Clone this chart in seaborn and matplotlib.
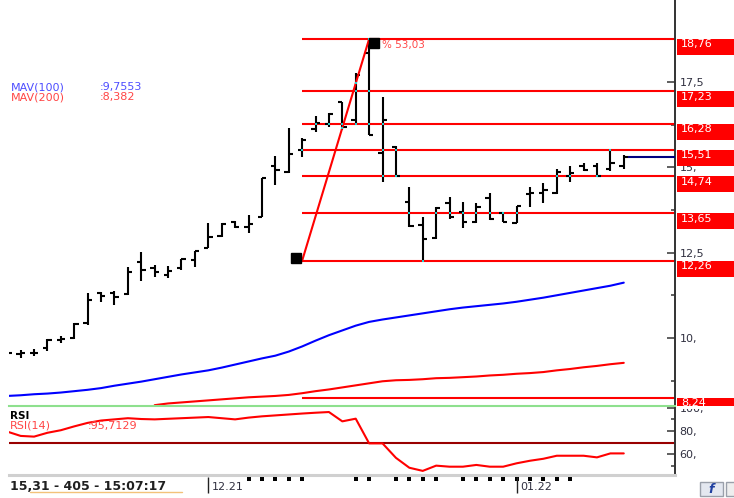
import numpy as np
import pandas as pd
import matplotlib
matplotlib.use("Agg")
import matplotlib.pyplot as plt
import matplotlib.transforms as mtransforms
from matplotlib.patches import Rectangle
from matplotlib.lines import Line2D
import seaborn as sns

# ---- values (daily bars, Dec 2021 - Jan 2022) ----
bars = list(range(-1, 46))
opens = [9.57, 9.53, 9.56, 9.70, 9.95, 10.00, 10.43, 11.32, 11.32, 11.29,
         12.23, 12.04, 11.85, 12.06, 12.28, 12.65, 12.99, 13.41, 13.25, 13.54,
         15.04, 14.87, 15.51, 16.11, 16.27, 16.90, 16.39, 18.34, 15.41, 15.60,
         13.99, 13.31, 12.93, 13.95, 13.70, 13.41, 14.09, 13.65, 13.37, 14.23,
         14.26, 14.25, 14.75, 15.04, 15.04, 14.94, 15.04]
highs = [9.57, 9.65, 9.67, 9.97, 10.06, 10.44, 11.33, 11.35, 11.38, 12.07,
         12.52, 12.14, 12.11, 12.30, 12.56, 13.38, 13.37, 13.44, 13.60, 14.70,
         15.33, 16.14, 15.85, 16.50, 16.60, 16.92, 17.75, 18.76, 17.07, 15.61,
         14.41, 13.54, 13.85, 14.12, 13.99, 13.96, 14.26, 13.67, 13.88, 14.43,
         14.55, 14.94, 15.04, 15.12, 15.14, 15.53, 15.36]
lows = [9.57, 9.41, 9.47, 9.63, 9.86, 9.98, 10.38, 11.05, 10.97, 11.26,
        11.68, 11.79, 11.76, 11.99, 12.09, 12.63, 12.97, 13.21, 13.07, 13.53,
        14.47, 14.82, 15.31, 16.04, 16.19, 16.09, 16.24, 15.94, 14.58, 14.73,
        13.26, 12.26, 12.89, 13.48, 13.21, 13.36, 13.46, 13.40, 13.36, 13.85,
        13.96, 14.22, 14.58, 14.90, 14.73, 14.90, 14.94]
closes = [9.57, 9.56, 9.57, 9.94, 9.98, 10.41, 11.11, 11.23, 11.20, 11.94,
          11.99, 11.94, 11.95, 12.30, 12.55, 12.97, 13.35, 13.25, 13.35, 14.68,
          14.92, 15.39, 15.80, 16.29, 16.56, 16.19, 17.70, 15.95, 16.39, 14.75,
          13.28, 12.89, 13.80, 13.54, 13.41, 13.85, 13.48, 13.41, 13.86, 14.26,
          14.34, 14.87, 14.84, 14.91, 14.75, 15.14, 15.31]
mav100 = [8.30, 8.32, 8.35, 8.37, 8.40, 8.44, 8.48, 8.53, 8.60, 8.66,
          8.72, 8.79, 8.86, 8.93, 8.99, 9.05, 9.13, 9.22, 9.31, 9.40,
          9.48, 9.60, 9.75, 9.92, 10.08, 10.22, 10.36, 10.47, 10.54, 10.60,
          10.66, 10.72, 10.78, 10.84, 10.89, 10.93, 10.97, 11.01, 11.06, 11.12,
          11.18, 11.25, 11.32, 11.39, 11.46, 11.53, 11.62]
mav200 = [np.nan] * 11 + [
          8.03, 8.08, 8.11, 8.14, 8.17, 8.20, 8.23, 8.26, 8.28, 8.30,
          8.33, 8.38, 8.44, 8.49, 8.55, 8.61, 8.67, 8.73, 8.76, 8.77,
          8.79, 8.82, 8.83, 8.85, 8.87, 8.90, 8.92, 8.95, 8.97, 9.00,
          9.05, 9.09, 9.14, 9.18, 9.23, 9.27]
rsi14 = [79.5, 75.8, 75.2, 78.5, 80.7, 84.0, 87.0, 89.0, 90.0, 91.0,
         90.3, 90.0, 90.5, 91.0, 91.5, 92.0, 91.0, 90.0, 91.5, 92.6,
         93.4, 94.2, 95.0, 95.7, 96.3, 88.3, 90.6, 69.4, 69.4, 57.0,
         48.5, 45.8, 50.3, 49.4, 49.4, 50.9, 49.4, 49.4, 52.3, 54.5,
         56.2, 58.8, 58.8, 58.8, 57.4, 60.8, 60.8]

fib_levels = [18.76, 17.23, 16.28, 15.51, 14.74, 13.65, 12.26, 8.24]
fib_labels = ["18,76", "17,23", "16,28", "15,51", "14,74", "13,65", "12,26", "8,24"]
fib_start_bar, fib_low = 21, 12.26
fib_end_bar, fib_high = 26, 18.76
fib_pct = "% 53,03"
last_price = 15.31

price_ticks = [10, 12.5, 15, 17.5]
price_tick_labels = ["10,", "12,5", "15,", "17,5"]
price_minor = [8.75, 11.25, 13.75, 16.25, 18.75]
rsi_ticks = [60, 80, 100]
rsi_tick_labels = ["60,", "80,", "100,"]
rsi_minor = [50, 70, 90]
rsi_level = 70

month_starts = [14, 37]
month_labels = ["12.21", "01.22"]
marked_bars = [17, 18, 19, 20, 21, 25, 26, 28, 29, 30, 31, 33, 34, 35, 36,
               37, 38, 39, 40, 41]

# ---- figure ----
sns.set_theme(style="white")
plt.rcParams["font.family"] = ["DejaVu Sans"]

W, H = 734, 498
fig = plt.figure(figsize=(W / 100, H / 100), dpi=100)


def px_rect(x0, y0, x1, y1):
    return [x0 / W, 1 - y1 / H, (x1 - x0) / W, (y1 - y0) / H]


ax = fig.add_axes(px_rect(9, 0, 674.7, 405.5))
ax_rsi = fig.add_axes(px_rect(9, 405.5, 674.7, 474.5))
ax_bot = fig.add_axes(px_rect(9, 474.5, 674.7, 498))

xlim = (-0.87, 48.8)
df = pd.DataFrame({"bar": bars, "mav100": mav100, "mav200": mav200, "rsi": rsi14})

# moving averages
sns.lineplot(data=df, x="bar", y="mav100", ax=ax, color="#0000ff",
             linewidth=1.5, estimator=None, legend=False)
sns.lineplot(data=df.dropna(subset=["mav200"]), x="bar", y="mav200", ax=ax,
             color="#ff0000", linewidth=1.5, estimator=None, legend=False)

# fibonacci retracement
ax.hlines(fib_levels, fib_start_bar, xlim[1], color="#ff0000", linewidth=1.5, zorder=2)
ax.plot([fib_start_bar, fib_end_bar], [fib_low, fib_high], color="#ff0000",
        linewidth=1.5, zorder=4)

# OHLC bars
b = np.array(bars, dtype=float)
ax.vlines(b, lows, highs, color="black", linewidth=1.5, zorder=3)
ax.hlines(opens, b - 0.32, b, color="black", linewidth=1.5, zorder=3)
ax.hlines(closes, b, b + 0.32, color="black", linewidth=1.5, zorder=3)

# cyan marks where bars cross the fib levels / trend line
cx, cy = [], []
slope = (fib_high - fib_low) / (fib_end_bar - fib_start_bar)
for i, lo, hi in zip(bars, lows, highs):
    if i < fib_start_bar:
        continue
    for lev in fib_levels:
        if lo <= lev <= hi:
            cx.append(i)
            cy.append(lev)
    if i <= fib_end_bar:
        t = fib_low + (i - fib_start_bar) * slope
        if lo <= t <= hi:
            cx.append(i)
            cy.append(t)
ax.scatter(cx, cy, marker="s", s=2.5, color="#22d0d0", linewidths=0, zorder=5)

# anchor squares
lo_tr = mtransforms.offset_copy(ax.transData, fig=fig, x=-6, y=3, units="dots")
hi_tr = mtransforms.offset_copy(ax.transData, fig=fig, x=5, y=-4, units="dots")
ax.plot([fib_start_bar], [fib_low], marker="s", markersize=6.5, color="black",
        transform=lo_tr, zorder=6)
ax.plot([fib_end_bar], [fib_high], marker="s", markersize=6.5, color="black",
        transform=hi_tr, zorder=6)
ax.annotate(fib_pct, xy=(fib_end_bar, fib_high), xytext=(9, -4.5),
            textcoords="offset points", color="#ff4848", fontsize=7.5,
            va="center", ha="left", zorder=7)

# last price line
ax.hlines(last_price, bars[-1] + 0.32, xlim[1], color="#000080", linewidth=1.5, zorder=3)

# RSI
sns.lineplot(data=df, x="bar", y="rsi", ax=ax_rsi, color="#ff0000",
             linewidth=1.5, estimator=None, legend=False)
ax_rsi.axhline(rsi_level, color="#990000", linewidth=1.5, zorder=1)

# axes styling
for a in (ax, ax_rsi):
    a.set_xlim(*xlim)
    a.set_xlabel("")
    a.set_ylabel("")
    a.set_xticks([])
    for s in ("left", "top", "bottom"):
        a.spines[s].set_visible(False)
    a.spines["right"].set_color("#333333")
    a.spines["right"].set_linewidth(1.4)
    a.yaxis.tick_right()
    a.tick_params(axis="y", which="major", direction="in", length=6, width=1.2,
                  color="#444444", labelsize=8, labelcolor="#303040", pad=3.5)
    a.tick_params(axis="y", which="minor", direction="in", length=3, width=1.2,
                  color="#444444")

ax.set_ylim(8.02, 19.903)
ax.set_yticks(price_ticks)
ax.set_yticklabels(price_tick_labels)
ax.set_yticks(price_minor, minor=True)

ax_rsi.set_ylim(42.7, 101.9)
ax_rsi.set_yticks(rsi_ticks)
ax_rsi.set_yticklabels(rsi_tick_labels)
ax_rsi.set_yticks(rsi_minor, minor=True)
ax_rsi.spines["top"].set_visible(True)
ax_rsi.spines["top"].set_color("#8ee08e")
ax_rsi.spines["top"].set_linewidth(1.5)
ax_rsi.spines["bottom"].set_visible(True)
ax_rsi.spines["bottom"].set_color("#d0d0d0")
ax_rsi.spines["bottom"].set_linewidth(2.2)

# the RSI tick labels are cut at the panel's top edge
clip_rsi = mtransforms.TransformedBbox(
    mtransforms.Bbox([[0, 0], [1, 1 - 409 / H]]), fig.transFigure)
for tick in ax_rsi.yaxis.get_major_ticks():
    for lbl in (tick.label1, tick.label2):
        lbl.set_clip_box(clip_rsi)
        lbl.set_clip_on(True)

# red price boxes for fib levels, clipped to the price panel
lab_tr = mtransforms.blended_transform_factory(ax.transAxes, ax.transData)
clip = mtransforms.TransformedBbox(
    mtransforms.Bbox([[0, 1 - 405.5 / H], [1, 1]]), fig.transFigure)
box_h = 16 * (19.903 - 8.02) / 405.5
for lev, lab in zip(fib_levels, fib_labels):
    r = Rectangle((1.0035, lev - box_h), 0.12, box_h, transform=lab_tr,
                  facecolor="#ff0000", edgecolor="none", zorder=5)
    fig.add_artist(r)
    r.set_clip_box(clip)
    t = fig.text(1.0095, lev - 0.245, lab, transform=lab_tr, color="white",
                 fontsize=8, va="baseline", ha="left", zorder=6)
    t.set_clip_box(clip)

# legends
fig.text(11 / W, 1 - 87 / H, "MAV(100)", color="#4d4dff", fontsize=8, va="center")
fig.text(100 / W, 1 - 87 / H, ":9,7553", color="#4d4dff", fontsize=8, va="center")
fig.text(11 / W, 1 - 97 / H, "MAV(200)", color="#ff4545", fontsize=8, va="center")
fig.text(100 / W, 1 - 97 / H, ":8,382", color="#ff4545", fontsize=8, va="center")
fig.text(10 / W, 1 - 416 / H, "RSI", color="black", fontsize=7.5,
         fontweight="bold", va="center")
fig.text(10 / W, 1 - 425.5 / H, "RSI(14)", color="#ff4545", fontsize=8, va="center")
fig.text(88 / W, 1 - 425.5 / H, ":95,7129", color="#ff4545", fontsize=8, va="center")

# bottom strip: day marks and month separators
ax_bot.set_xlim(*xlim)
ax_bot.set_ylim(0, 1)
ax_bot.axis("off")
ax_bot.scatter(marked_bars, [0.81] * len(marked_bars), marker="s", s=5,
               color="black", linewidths=0)
for m, lab in zip(month_starts, month_labels):
    ax_bot.vlines(m, 0.2, 0.9, color="#222222", linewidth=1)
    ax_bot.text(m + 0.25, 0.48, lab, color="#303040", fontsize=8, va="center", ha="left")

fig.text(10 / W, 1 - 486 / H, "15,31 - 405 - 15:07:17", color="#202020",
         fontsize=9, fontweight="bold", va="center")
fig.add_artist(Line2D([30 / W, 182 / W], [1 - 492 / H, 1 - 492 / H],
                      color="#f3c27a", linewidth=1))

# small button at the bottom right
fig.add_artist(Rectangle((700 / W, 1 - 496 / H), 23 / W, 14 / H,
                         facecolor="#e4e8f0", edgecolor="#9aa0aa", linewidth=1))
fig.text(711.5 / W, 1 - 489 / H, "f", color="#2040a0", fontsize=9,
         fontweight="bold", fontstyle="italic", ha="center", va="center")
fig.add_artist(Rectangle((726 / W, 1 - 496 / H), 10 / W, 14 / H,
                         facecolor="#eeeeee", edgecolor="#9aa0aa", linewidth=1))

fig.savefig("out.png", dpi=100)
